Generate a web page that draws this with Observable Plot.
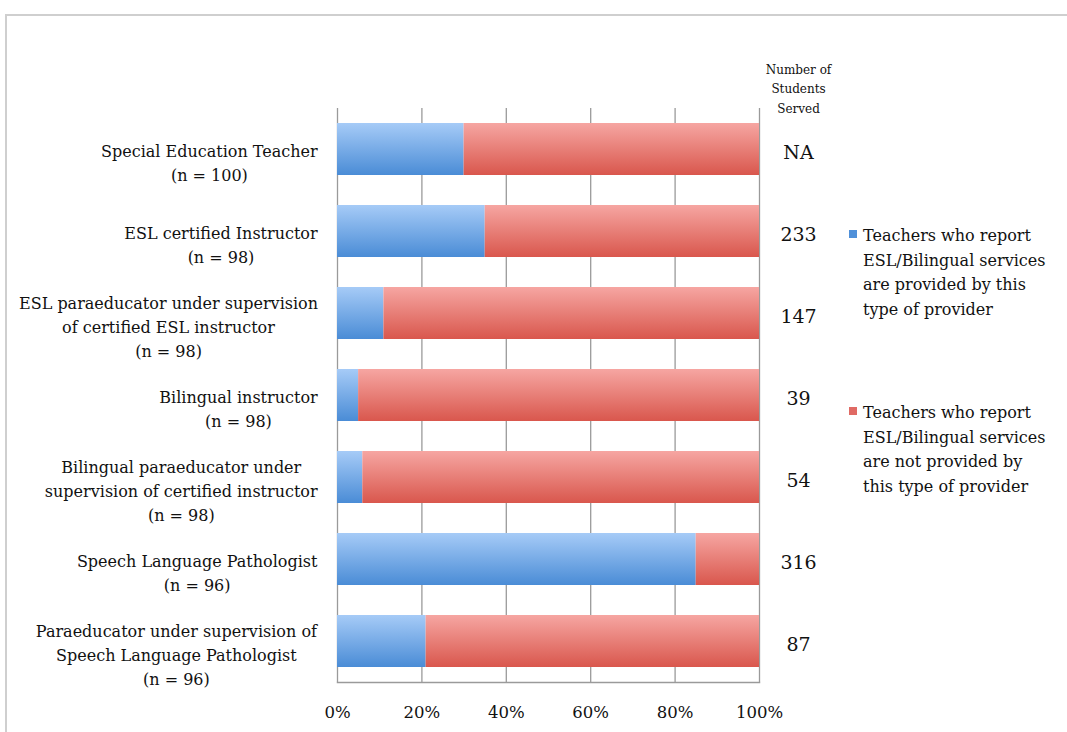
<!DOCTYPE html>
<html><head><meta charset="utf-8">
<script src="https://cdn.jsdelivr.net/npm/d3@7"></script>
<script src="https://cdn.jsdelivr.net/npm/@observablehq/plot@0.6"></script>
<style>
body{margin:0;background:#fff;font-family:"DejaVu Serif",serif;}
#wrap{position:relative;width:1067px;height:732px;overflow:hidden;background:#fff;}
#border{position:absolute;left:5px;top:14px;width:1200px;height:900px;border-left:2px solid #cfcfcf;border-top:2px solid #cfcfcf;}
#chart{position:absolute;left:0;top:0;}
.legend{position:absolute;left:849px;font-size:16px;line-height:24.6px;color:#111;}
.legend .sw{position:absolute;left:0;top:6px;width:8px;height:8px;}
.legend .tx{margin-left:14px;white-space:nowrap;}
</style></head>
<body><div id="wrap"><div id="border"></div><div id="chart"></div></div>
<script>
// ---- data ----
const labels = [
  "Special Education Teacher\n(n = 100)",
  "ESL certified Instructor\n(n = 98)",
  "ESL paraeducator under supervision\nof certified ESL instructor\n(n = 98)",
  "Bilingual instructor\n(n = 98)",
  "Bilingual paraeducator under\nsupervision of certified instructor\n(n = 98)",
  "Speech Language Pathologist\n(n = 96)",
  "Paraeducator under supervision of\nSpeech Language Pathologist\n(n = 96)"
];
const provided    = [30, 35, 11, 5, 6, 85, 21];
const notProvided = [70, 65, 89, 95, 94, 15, 79];
const served = ["NA", "233", "147", "39", "54", "316", "87"];
const servedHeader = "Number of\nStudents\nServed";
const seriesNames = ["provided", "not provided"];
const legendLines = [
  ["Teachers who report", "ESL/Bilingual services", "are provided by this", "type of provider"],
  ["Teachers who report", "ESL/Bilingual services", "are not provided by", "this type of provider"]
];
const xTicks = [0, 20, 40, 60, 80, 100];

// ---- table ----
const rows = labels.flatMap((l, i) => [
  {cat: l, series: seriesNames[0], value: provided[i]},
  {cat: l, series: seriesNames[1], value: notProvided[i]}
]);

const ink = "#111";
const svg = Plot.plot({
  width: 1067, height: 732,
  marginLeft: 337, marginRight: 308, marginTop: 108, marginBottom: 50,
  style: {fontFamily: "'DejaVu Serif', serif", color: ink, background: "transparent"},
  x: {domain: [0, 100], label: null},
  y: {domain: labels, paddingInner: 0.366, paddingOuter: 0.183, axis: null, label: null},
  color: {domain: seriesNames, range: ["url(#gBlue)", "url(#gRed)"]},
  marks: [
    Plot.gridX({ticks: xTicks, stroke: "#9a9a9a", strokeOpacity: 1, strokeWidth: 1.3}),
    Plot.frame({anchor: "bottom", stroke: "#9a9a9a", strokeWidth: 1.5}),
    Plot.barX(rows, Plot.stackX({x: "value", y: "cat", fill: "series"})),
    Plot.axisX({ticks: xTicks, tickFormat: d => d + "%", tickSize: 0, tickPadding: 24, fontSize: 16.5, label: null}),
    Plot.text(labels, {y: d => d, text: d => d, frameAnchor: "left", dx: -130, dy: 12,
      textAnchor: "middle", lineAnchor: "middle", lineHeight: 1.5, fontSize: 16, fill: ink, ariaLabel: () => "ylabel"}),
    Plot.text(labels, {y: d => d, text: (d, i) => served[i], frameAnchor: "right", dx: 39, dy: 3,
      textAnchor: "middle", fontSize: 19, fill: ink}),
    Plot.text([servedHeader], {text: d => d, frameAnchor: "top-right", dx: 39, dy: 4,
      textAnchor: "middle", lineAnchor: "bottom", lineHeight: 1.6, fontSize: 12, fill: ink})
  ]
});

const ns = "http://www.w3.org/2000/svg";
const defs = document.createElementNS(ns, "defs");
defs.innerHTML = `
<linearGradient id="gBlue" x1="0" y1="0" x2="0" y2="1">
  <stop offset="0" stop-color="#a6cbf7"/><stop offset="1" stop-color="#4a8cd6"/>
</linearGradient>
<linearGradient id="gRed" x1="0" y1="0" x2="0" y2="1">
  <stop offset="0" stop-color="#f6a6a2"/><stop offset="1" stop-color="#d9574d"/>
</linearGradient>`;
svg.insertBefore(defs, svg.firstChild);
document.getElementById("chart").appendChild(svg);

// right-align each centred label block to just left of the axis
const svgRect = svg.getBoundingClientRect();
const target = 337 - 19;
svg.querySelectorAll('text[aria-label="ylabel"]').forEach(t => {
  const r = t.getBoundingClientRect();
  const delta = target - (r.right - svgRect.left);
  t.setAttribute("transform", (t.getAttribute("transform") || "") + ` translate(${delta},0)`);
});

// legend
const legendColors = ["#4f90d9", "#e06a64"];
const legendTops = [224, 401];
const wrap = document.getElementById("wrap");
legendLines.forEach((lines, i) => {
  const div = document.createElement("div");
  div.className = "legend";
  div.style.top = legendTops[i] + "px";
  const sw = document.createElement("div");
  sw.className = "sw"; sw.style.background = legendColors[i];
  div.appendChild(sw);
  lines.forEach(l => { const t = document.createElement("div"); t.className = "tx"; t.textContent = l; div.appendChild(t); });
  wrap.appendChild(div);
});
</script>
</body></html>
